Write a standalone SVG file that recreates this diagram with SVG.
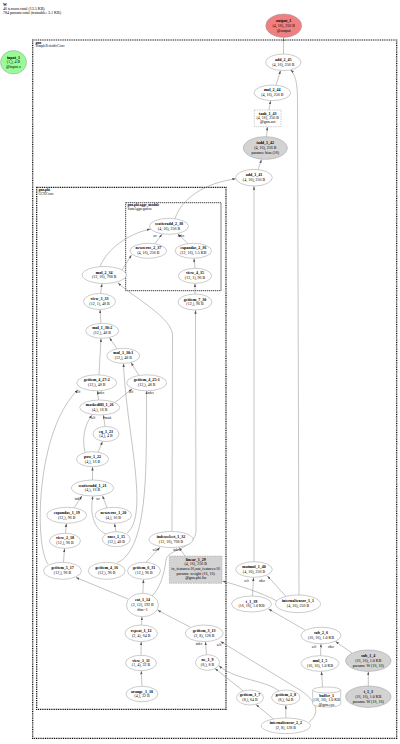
<svg xmlns="http://www.w3.org/2000/svg" width="400" height="744" viewBox="0 0 400 744">
<style>
text{font-family:"Liberation Serif","Times New Roman",serif;font-size:4px;fill:#000}
.c{text-anchor:middle}
.b{font-weight:bold}
.n{fill:#fff;stroke:#999;stroke-width:.5}
.p{fill:#d3d3d3;stroke:#999;stroke-width:.5}
.d{stroke-dasharray:1.5 1}
.box{fill:none;stroke:#000;stroke-width:1.2;stroke-dasharray:1 .8}
.box2{fill:none;stroke:#000;stroke-width:.8;stroke-dasharray:1.2 .8}
.bl{font-size:3.5px}
.e{fill:none;stroke:#888;stroke-width:.5;marker-end:url(#a)}
.l{font-size:3px;text-anchor:middle}
</style>
<defs>
<marker id="a" viewBox="0 0 6 4" refX="6" refY="2" markerWidth="3.5" markerHeight="2.4" markerUnits="userSpaceOnUse" orient="auto"><path d="M0,0L6,2L0,4z" fill="#555"/></marker>
</defs>
<rect width="400" height="744" fill="#fff"/>
<g id="header">
<text x="3" y="5.5" class="b">W</text>
<text x="3" y="9.5">46 tensors total (13.5 KB)</text>
<text x="3" y="13.5">784 params total (trainable: 3.1 KB)</text>
</g>
<g id="clusters">
<rect class="box" x="32.7" y="40" width="364" height="698.3"/>
<text class="bl b" x="35.5" y="43.8">gnn</text>
<text class="bl" x="35.5" y="47.3">SimplePeriodicConv</text>
<rect class="box" x="36.7" y="187.3" width="189.3" height="522"/>
<text class="bl b" x="38.5" y="191">gnn.phi</text>
<text class="bl" x="38.5" y="194.5">GCNConv</text>
<rect class="box2" x="125.7" y="202.7" width="95.3" height="88"/>
<text class="bl b" x="127.5" y="206">gnn.phi.aggr_module</text>
<text class="bl" x="127.5" y="209.5">SumAggregation</text>
</g>
<g id="edges">
<path class="e" d="M283.5,54L283.6,37.8"/>
<path class="e" d="M276,85.3L280.5,70.6"/>
<path class="e" d="M269,110L270.5,100.8"/>
<path class="e" d="M266.5,136.7L267.3,127"/>
<path class="e" d="M258,169.6L261.5,159.5"/>
<path class="e" d="M254,561.7L254,186.2"/>
<path class="e" d="M299,595L297.5,100C297.5,82 295,74 290.5,69.8"/>
<path class="e" d="M175,218.6C182,198 205,183 235.8,178.8"/>
<path class="e" d="M155,243.7L162,234.2"/>
<path class="e" d="M188,243.5L178,234"/>
<path class="e" d="M195,268.3L194,258.5"/>
<path class="e" d="M195,294L195,283.5"/>
<path class="e" d="M100,266.5C108,248 128,234 150.5,229"/>
<path class="e" d="M122,270L131.5,255"/>
<path class="e" d="M100.5,293.5L102,283.7"/>
<path class="e" d="M172,531L172.5,335C172,318 135,298 118,283"/>
<path class="e" d="M146,562.3L160,547.3"/>
<path class="e" d="M185,556L179,547.4"/>
<path class="e" d="M152,596C160,588 164,575 166,560C168,548 196,550 196,530L195.5,310.2"/>
<path class="e" d="M142.8,593.3L143.5,579.6"/>
<path class="e" d="M128,599L76,577.5"/>
<path class="e" d="M63.5,562.3L64.5,548.5"/>
<path class="e" d="M48,564C34,545 36,430 78,389.8"/>
<path class="e" d="M117,563C150,548 146,460 146.5,391"/>
<path class="e" d="M127,533C150,515 126,430 123.5,363.5"/>
<path class="e" d="M106,534C92,528 90,510 93,496.2"/>
<path class="e" d="M74,508L82,495.7"/>
<path class="e" d="M107,508L102.5,495.7"/>
<path class="e" d="M65.5,533.3L66.3,523.5"/>
<path class="e" d="M116,531.7L114.5,523.5"/>
<path class="e" d="M92.5,480L92.5,467"/>
<path class="e" d="M98,452.3L102.5,441.6"/>
<path class="e" d="M85,452.5C82,440 84,425 92,415.2"/>
<path class="e" d="M105,426.5L103.5,415.1"/>
<path class="e" d="M98.5,400L97.5,391"/>
<path class="e" d="M115,402.5L132,389"/>
<path class="e" d="M99,374.8L101,338.5"/>
<path class="e" d="M139,375.5L131,362.5"/>
<path class="e" d="M117,348.8L109.5,337.8"/>
<path class="e" d="M101,323.3L100,309.7"/>
<path class="e" d="M142,686.3L141.3,671"/>
<path class="e" d="M141,655.3L141.2,641.8"/>
<path class="e" d="M141.5,625L142,616.8"/>
<path class="e" d="M190,627L157.5,610.2"/>
<path class="e" d="M206.5,654.7L205.5,641.8"/>
<path class="e" d="M309,722C322,712 315,700 300,690L220.5,641.5"/>
<path class="e" d="M274,719.5L256,704.5"/>
<path class="e" d="M285.8,718L285.8,705.2"/>
<path class="e" d="M243,690.8L215,668.5"/>
<path class="e" d="M279,690.8C265,680 235,680 219,665.8"/>
<path class="e" d="M286,596.5L267.5,576"/>
<path class="e" d="M252.5,596L253.5,577.5"/>
<path class="e" d="M277,601C260,592 240,586 222.5,581"/>
<path class="e" d="M305,630L268.5,609"/>
<path class="e" d="M320.5,655.7L321,644"/>
<path class="e" d="M352,653L335.5,641.5"/>
<path class="e" d="M322.5,687L321.5,671.5"/>
<path class="e" d="M368.3,686L368.3,671.6"/>
<text class="l" x="246.5" y="581.5">self</text>
<text class="l" x="262" y="581.5">other</text>
<text class="l" x="314" y="648">self</text>
<text class="l" x="331" y="647.5">other</text>
<text class="l" x="155" y="550.5">self</text>
<text class="l" x="176.5" y="550.5">index</text>
<text class="l" x="199" y="645">index</text>
<text class="l" x="219" y="645.5">self</text>
<text class="l" x="155" y="236.5">src</text>
<text class="l" x="181" y="237">index</text>
<text class="l" x="78" y="499.5">index</text>
<text class="l" x="98" y="500">src</text>
<text class="l" x="93" y="418.5">self</text>
<text class="l" x="108" y="418.5">mask</text>
<text class="l" x="78" y="393">self</text>
<text class="l" x="101" y="394">index</text>
<text class="l" x="131" y="392.5">self</text>
<text class="l" x="150.5" y="394">index</text>
</g>
<g id="input_1"><ellipse cx="13.5" cy="62.3" rx="13" ry="11.7" fill="#98fb98" stroke="#999" stroke-width=".5"/><text class="c" x="13.5" y="58.5"><tspan class="b">input_1</tspan><tspan x="13.5" dy="4.8">(1,), 4 B</tspan><tspan x="13.5" dy="4.8">@input.x</tspan></text></g>
<g id="output_1"><ellipse cx="283.7" cy="25.7" rx="18" ry="11.7" fill="#f08080" stroke="#999" stroke-width=".5"/><text class="c" x="283.7" y="21.9"><tspan class="b">output_1</tspan><tspan x="283.7" dy="4.8">(4, 16), 256 B</tspan><tspan x="283.7" dy="4.8">@output</tspan></text></g>
<g id="add_2_45"><ellipse class="n" cx="283.3" cy="62.3" rx="17.7" ry="8.3"/><text class="c" x="283.3" y="60.9"><tspan class="b">add_2_45</tspan><tspan x="283.3" dy="4.8">(4, 16), 256 B</tspan></text></g>
<g id="mul_2_44"><ellipse class="n" cx="272.3" cy="92.8" rx="18.3" ry="7.8"/><text class="c" x="272.3" y="91.4"><tspan class="b">mul_2_44</tspan><tspan x="272.3" dy="4.8">(4, 16), 256 B</tspan></text></g>
<g id="tanh_1_43"><rect class="n d" x="254.3" y="110" width="26.7" height="16.7"/><text class="c" x="267.7" y="114.6"><tspan class="b">tanh_1_43</tspan><tspan x="267.7" dy="4.3">(4, 16), 256 B</tspan><tspan x="267.7" dy="4.3">@gnn.act</tspan></text></g>
<g id="iadd_1_42"><ellipse class="p" cx="265.3" cy="148" rx="22" ry="11.3"/><text class="c" x="265.3" y="144.2"><tspan class="b">iadd_1_42</tspan><tspan x="265.3" dy="4.8">(4, 16), 256 B</tspan><tspan x="265.3" dy="4.8">params: bias (16)</tspan></text></g>
<g id="add_1_41"><ellipse class="n" cx="254" cy="177.7" rx="18.3" ry="8.3"/><text class="c" x="254" y="176.3"><tspan class="b">add_1_41</tspan><tspan x="254" dy="4.8">(4, 16), 256 B</tspan></text></g>
<g id="scatteradd_2_38"><ellipse class="n" cx="169" cy="226.3" rx="19.5" ry="8"/><text class="c" x="169" y="224.9"><tspan class="b">scatteradd_2_38</tspan><tspan x="169" dy="4.8">(4, 16), 256 B</tspan></text></g>
<g id="newzeros_2_37"><ellipse class="n" cx="148.3" cy="250.8" rx="18.3" ry="7.5"/><text class="c" x="148.3" y="249.4"><tspan class="b">newzeros_2_37</tspan><tspan x="148.3" dy="4.8">(4, 16), 256 B</tspan></text></g>
<g id="expandas_2_36"><ellipse class="n" cx="193.3" cy="250.8" rx="18.3" ry="7.5"/><text class="c" x="193.3" y="249.4"><tspan class="b">expandas_2_36</tspan><tspan x="193.3" dy="4.8">(12, 16), 1.5 KB</tspan></text></g>
<g id="view_4_35"><ellipse class="n" cx="195" cy="275.8" rx="16.7" ry="7.5"/><text class="c" x="195" y="274.4"><tspan class="b">view_4_35</tspan><tspan x="195" dy="4.8">(12, 1), 96 B</tspan></text></g>
<g id="mul_2_34"><ellipse class="n" cx="104.2" cy="275" rx="22" ry="8.5"/><text class="c" x="104.2" y="273.6"><tspan class="b">mul_2_34</tspan><tspan x="104.2" dy="4.8">(12, 16), 768 B</tspan></text></g>
<g id="view_3_33"><ellipse class="n" cx="99.5" cy="301.5" rx="16" ry="8"/><text class="c" x="99.5" y="300.1"><tspan class="b">view_3_33</tspan><tspan x="99.5" dy="4.8">(12, 1), 48 B</tspan></text></g>
<g id="getitem_7_30"><ellipse class="n" cx="195" cy="302" rx="17" ry="8"/><text class="c" x="195" y="300.6"><tspan class="b">getitem_7_30</tspan><tspan x="195" dy="4.8">(12,), 96 B</tspan></text></g>
<g id="mul_1_30_2"><ellipse class="n" cx="102.2" cy="330.8" rx="16.5" ry="7.5"/><text class="c" x="102.2" y="329.4"><tspan class="b">mul_1_30:2</tspan><tspan x="102.2" dy="4.8">(12,), 48 B</tspan></text></g>
<g id="mul_1_30_1"><ellipse class="n" cx="123.3" cy="355.8" rx="16.5" ry="7.5"/><text class="c" x="123.3" y="354.4"><tspan class="b">mul_1_30:1</tspan><tspan x="123.3" dy="4.8">(12,), 48 B</tspan></text></g>
<g id="getitem_4_27_2"><ellipse class="n" cx="96.7" cy="382.8" rx="20" ry="8"/><text class="c" x="96.7" y="381.4"><tspan class="b">getitem_4_27:2</tspan><tspan x="96.7" dy="4.8">(12,), 48 B</tspan></text></g>
<g id="getitem_4_25_1"><ellipse class="n" cx="146.7" cy="382.8" rx="20" ry="8"/><text class="c" x="146.7" y="381.4"><tspan class="b">getitem_4_25:1</tspan><tspan x="146.7" dy="4.8">(12,), 48 B</tspan></text></g>
<g id="maskedfill_1_26"><ellipse class="n" cx="99.7" cy="407.5" rx="20" ry="7.5"/><text class="c" x="99.7" y="406.1"><tspan class="b">maskedfill_1_26</tspan><tspan x="99.7" dy="4.8">(4,), 16 B</tspan></text></g>
<g id="eq_1_23"><ellipse class="n" cx="106" cy="434" rx="13" ry="7.5"/><text class="c" x="106" y="432.6"><tspan class="b">eq_1_23</tspan><tspan x="106" dy="4.8">(4,), 4 B</tspan></text></g>
<g id="pow_1_22"><ellipse class="n" cx="92.5" cy="459.2" rx="16" ry="7.5"/><text class="c" x="92.5" y="457.8"><tspan class="b">pow_1_22</tspan><tspan x="92.5" dy="4.8">(4,), 16 B</tspan></text></g>
<g id="scatteradd_1_21"><ellipse class="n" cx="92.5" cy="488" rx="21" ry="8"/><text class="c" x="92.5" y="486.6"><tspan class="b">scatteradd_1_21</tspan><tspan x="92.5" dy="4.8">(4,), 16 B</tspan></text></g>
<g id="expandas_1_19"><ellipse class="n" cx="66.7" cy="515.3" rx="20" ry="8"/><text class="c" x="66.7" y="513.9"><tspan class="b">expandas_1_19</tspan><tspan x="66.7" dy="4.8">(12,), 96 B</tspan></text></g>
<g id="newzeros_1_20"><ellipse class="n" cx="113.3" cy="515.3" rx="18.3" ry="8"/><text class="c" x="113.3" y="513.9"><tspan class="b">newzeros_1_20</tspan><tspan x="113.3" dy="4.8">(4,), 16 B</tspan></text></g>
<g id="view_2_18"><ellipse class="n" cx="65" cy="540.8" rx="15.5" ry="7.5"/><text class="c" x="65" y="539.4"><tspan class="b">view_2_18</tspan><tspan x="65" dy="4.8">(12,), 96 B</tspan></text></g>
<g id="ones_1_15"><ellipse class="n" cx="116.3" cy="539.2" rx="14" ry="7.5"/><text class="c" x="116.3" y="537.8"><tspan class="b">ones_1_15</tspan><tspan x="116.3" dy="4.8">(12,), 48 B</tspan></text></g>
<g id="indexselect_1_32"><ellipse class="n" cx="171" cy="539.5" rx="22" ry="8"/><text class="c" x="171" y="538.1"><tspan class="b">indexselect_1_32</tspan><tspan x="171" dy="4.8">(12, 16), 768 B</tspan></text></g>
<g id="getitem_5_17"><ellipse class="n" cx="62.5" cy="570.8" rx="19" ry="8.5"/><text class="c" x="62.5" y="569.4"><tspan class="b">getitem_5_17</tspan><tspan x="62.5" dy="4.8">(12,), 96 B</tspan></text></g>
<g id="getitem_4_16"><ellipse class="n" cx="106.7" cy="570.8" rx="18.5" ry="8.5"/><text class="c" x="106.7" y="569.4"><tspan class="b">getitem_4_16</tspan><tspan x="106.7" dy="4.8">(12,), 96 B</tspan></text></g>
<g id="getitem_6_31"><ellipse class="n" cx="144" cy="570.8" rx="16.5" ry="8.5"/><text class="c" x="144" y="569.4"><tspan class="b">getitem_6_31</tspan><tspan x="144" dy="4.8">(12,), 96 B</tspan></text></g>
<g id="linear_1_29"><rect class="p d" x="169.3" y="556" width="52.7" height="27.3"/><text class="c" x="195.7" y="560.6"><tspan class="b">linear_1_29</tspan><tspan x="195.7" dy="4.7">(4, 16), 256 B</tspan><tspan x="195.7" dy="4.7">in_features:16,out_features:16</tspan><tspan x="195.7" dy="4.7">params: weight (16, 16)</tspan><tspan x="195.7" dy="4.7">@gnn.phi.lin</tspan></text></g>
<g id="cat_1_14"><ellipse class="n" cx="142.5" cy="605" rx="16" ry="11.7"/><text class="c" x="142.5" y="601.2"><tspan class="b">cat_1_14</tspan><tspan x="142.5" dy="4.8">(2, 12), 192 B</tspan><tspan x="142.5" dy="4.8">dim=1</tspan></text></g>
<g id="repeat_1_12"><ellipse class="n" cx="141.2" cy="633.3" rx="16.2" ry="8.3"/><text class="c" x="141.2" y="631.9"><tspan class="b">repeat_1_12</tspan><tspan x="141.2" dy="4.8">(2, 4), 64 B</tspan></text></g>
<g id="view_1_11"><ellipse class="n" cx="141" cy="663" rx="15.5" ry="7.7"/><text class="c" x="141" y="661.6"><tspan class="b">view_1_11</tspan><tspan x="141" dy="4.8">(1, 4), 32 B</tspan></text></g>
<g id="arange_1_10"><ellipse class="n" cx="142" cy="694" rx="16" ry="7.7"/><text class="c" x="142" y="692.6"><tspan class="b">arange_1_10</tspan><tspan x="142" dy="4.8">(4,), 32 B</tspan></text></g>
<g id="getitem_3_13"><ellipse class="n" cx="204.2" cy="633.3" rx="19" ry="8.3"/><text class="c" x="204.2" y="631.9"><tspan class="b">getitem_3_13</tspan><tspan x="204.2" dy="4.8">(2, 8), 128 B</tspan></text></g>
<g id="ne_1_9"><ellipse class="n" cx="207.5" cy="662.5" rx="12" ry="7.8"/><text class="c" x="207.5" y="661.1"><tspan class="b">ne_1_9</tspan><tspan x="207.5" dy="4.8">(8,), 8 B</tspan></text></g>
<g id="getitem_1_7"><ellipse class="n" cx="250" cy="697.5" rx="13.5" ry="7.5"/><text class="c" x="250" y="696.1"><tspan class="b">getitem_1_7</tspan><tspan x="250" dy="4.8">(8,), 64 B</tspan></text></g>
<g id="getitem_2_8"><ellipse class="n" cx="285.8" cy="697.5" rx="14.2" ry="7.5"/><text class="c" x="285.8" y="696.1"><tspan class="b">getitem_2_8</tspan><tspan x="285.8" dy="4.8">(8,), 64 B</tspan></text></g>
<g id="internaltensor_2_2"><ellipse class="n" cx="285.8" cy="725.8" rx="24.5" ry="7.8"/><text class="c" x="285.8" y="724.4"><tspan class="b">internaltensor_2_2</tspan><tspan x="285.8" dy="4.8">(2, 8), 128 B</tspan></text></g>
<g id="matmul_1_40"><ellipse class="n" cx="254" cy="569.5" rx="18.3" ry="7.8"/><text class="c" x="254" y="568.1"><tspan class="b">matmul_1_40</tspan><tspan x="254" dy="4.8">(4, 16), 256 B</tspan></text></g>
<g id="internaltensor_1_1"><ellipse class="n" cx="298" cy="603.8" rx="22.5" ry="8.8"/><text class="c" x="298" y="602.4"><tspan class="b">internaltensor_1_1</tspan><tspan x="298" dy="4.8">(4, 16), 256 B</tspan></text></g>
<g id="t_1_39"><ellipse class="n" cx="251.5" cy="604" rx="20" ry="8"/><text class="c" x="251.5" y="602.6"><tspan class="b">t_1_39</tspan><tspan x="251.5" dy="4.8">(16, 16), 1.0 KB</tspan></text></g>
<g id="sub_2_6"><ellipse class="n" cx="321" cy="635.5" rx="20" ry="8.3"/><text class="c" x="321" y="634.1"><tspan class="b">sub_2_6</tspan><tspan x="321" dy="4.8">(16, 16), 1.0 KB</tspan></text></g>
<g id="mul_1_5"><ellipse class="n" cx="320" cy="663.5" rx="19" ry="7.8"/><text class="c" x="320" y="662.1"><tspan class="b">mul_1_5</tspan><tspan x="320" dy="4.8">(16, 16), 1.0 KB</tspan></text></g>
<g id="buffer_1"><path class="n" d="M312.7,690a14,3 0 0,1 28,0v14a14,3 0 0,1 -28,0z"/><path class="n" d="M312.7,690a14,3 0 0,0 28,0" fill="none"/><text class="c" x="326.7" y="697"><tspan class="b">buffer_1</tspan><tspan x="326.7" dy="4.3">(16, 16), 1.0 KB</tspan><tspan x="326.7" dy="4.3">@gnn.eye</tspan></text></g>
<g id="sub_1_4"><ellipse class="p" cx="368.3" cy="660.7" rx="22.7" ry="10.7"/><text class="c" x="368.3" y="656.9"><tspan class="b">sub_1_4</tspan><tspan x="368.3" dy="4.8">(16, 16), 1.0 KB</tspan><tspan x="368.3" dy="4.8">params: W (16, 16)</tspan></text></g>
<g id="t_1_3"><ellipse class="p" cx="368.3" cy="696.7" rx="22.7" ry="10.7"/><text class="c" x="368.3" y="692.9"><tspan class="b">t_1_3</tspan><tspan x="368.3" dy="4.8">(16, 16), 1.0 KB</tspan><tspan x="368.3" dy="4.8">params: W (16, 16)</tspan></text></g>
</svg>
